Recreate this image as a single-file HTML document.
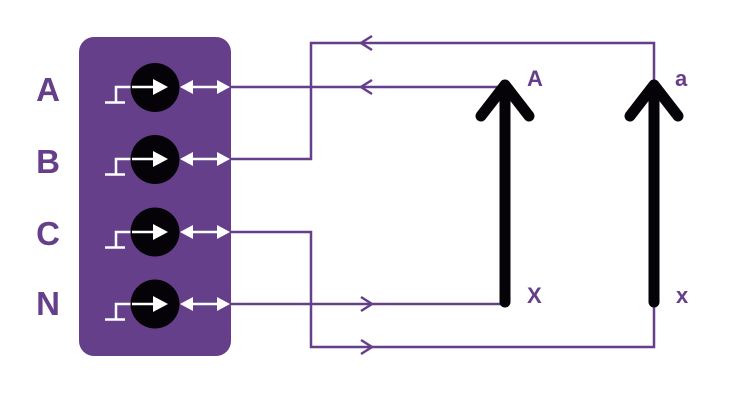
<!DOCTYPE html>
<html>
<head>
<meta charset="utf-8">
<style>
html,body{margin:0;padding:0;background:#fff;}
svg{display:block;}
text{font-family:"Liberation Sans",sans-serif;font-weight:bold;fill:#663F8B;}
</style>
</head>
<body>
<svg width="750" height="400" viewBox="0 0 750 400" xmlns="http://www.w3.org/2000/svg">
  <!-- left labels -->
  <text x="48" y="101" font-size="33" text-anchor="middle">A</text>
  <text x="48" y="173" font-size="33" text-anchor="middle">B</text>
  <text x="48" y="245" font-size="33" text-anchor="middle">C</text>
  <text x="48" y="315" font-size="33" text-anchor="middle">N</text>

  <!-- box -->
  <rect x="79" y="37" width="152" height="319" rx="15" ry="15" fill="#663F8B"/>

  <!-- rows -->
  <g id="row">
  </g>
  <g fill="none" stroke="#fff" stroke-width="2.5">
    <!-- step symbols -->
    <path d="M105 102.5 H125 M116 102.5 V87 H140"/>
    <path d="M105 174.5 H125 M116 174.5 V159 H140"/>
    <path d="M105 247.5 H125 M116 247.5 V232 H140"/>
    <path d="M105 319.5 H125 M116 319.5 V304 H140"/>
  </g>
  <g fill="#050308">
    <circle cx="155" cy="87.5" r="24.5"/>
    <circle cx="155" cy="159.5" r="24.5"/>
    <circle cx="155" cy="232" r="24.5"/>
    <circle cx="155" cy="304" r="24.5"/>
  </g>
  <g stroke="#fff" stroke-width="2.5" fill="none">
    <path d="M132 87 H156"/>
    <path d="M132 159 H156"/>
    <path d="M132 232 H156"/>
    <path d="M132 304 H156"/>
    <path d="M190 87 H222"/>
    <path d="M190 159 H222"/>
    <path d="M190 232 H222"/>
    <path d="M190 304 H222"/>
  </g>
  <g fill="#fff">
    <polygon points="168,87 153,79 153,95"/>
    <polygon points="168,159 153,151 153,167"/>
    <polygon points="168,232 153,224 153,240"/>
    <polygon points="168,304 153,296 153,312"/>
    <!-- double arrows -->
    <polygon points="180,87 193,80 193,94"/>
    <polygon points="230,87 217,80 217,94"/>
    <polygon points="180,159 193,152 193,166"/>
    <polygon points="230,159 217,152 217,166"/>
    <polygon points="180,232 193,225 193,239"/>
    <polygon points="230,232 217,225 217,239"/>
    <polygon points="180,304 193,297 193,311"/>
    <polygon points="230,304 217,297 217,311"/>
  </g>

  <!-- wires -->
  <g fill="none" stroke="#663F8B" stroke-width="2.5">
    <path d="M231 87 H505"/>
    <path d="M231 159 H311 V43 H654 V85"/>
    <path d="M231 232 H311 V347 H654 V303"/>
    <path d="M231 304 H505"/>
    <!-- chevrons -->
    <path d="M372 36 L361 43 L372 50"/>
    <path d="M372 80 L361 87 L372 94"/>
    <path d="M361 297 L372 304 L361 311"/>
    <path d="M361 340 L372 347 L361 354"/>
  </g>

  <!-- big arrows -->
  <g fill="none" stroke="#050308" stroke-width="11" stroke-linecap="round" stroke-linejoin="round">
    <path d="M505 86 V302"/>
    <path d="M481 116 L505 85 L529 116"/>
    <path d="M654 86 V302"/>
    <path d="M630 116 L654 85 L678 116"/>
  </g>

  <!-- right labels -->
  <text x="527" y="86" font-size="22">A</text>
  <text x="675" y="86" font-size="22">a</text>
  <text x="527" y="303" font-size="22">X</text>
  <text x="676" y="303" font-size="22">x</text>
</svg>
</body>
</html>
